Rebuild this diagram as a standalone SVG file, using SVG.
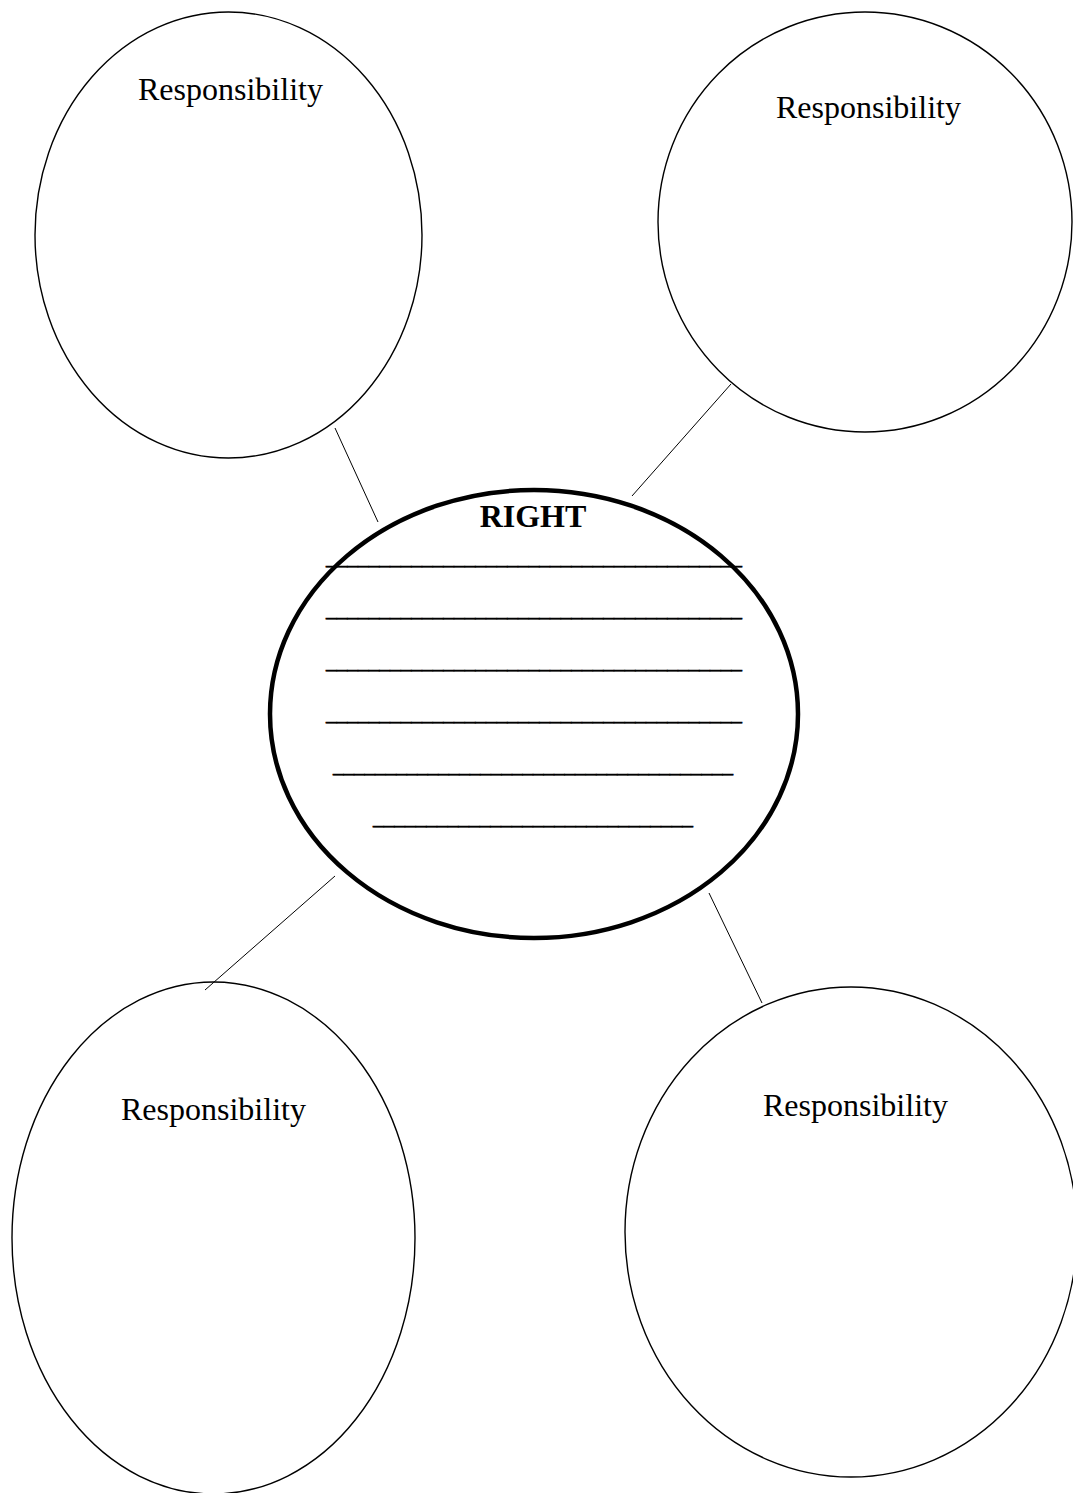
<svg xmlns="http://www.w3.org/2000/svg" width="1073" height="1493" viewBox="0 0 1073 1493">
<style>
.node{fill:none;stroke:#000;stroke-width:1.4}
.main{fill:none;stroke:#000;stroke-width:4.5}
.lbl{font-family:"Liberation Serif","Times New Roman",serif;font-size:32px;fill:#000}
.title{font-family:"Liberation Serif","Times New Roman",serif;font-size:32px;font-weight:bold;fill:#000;text-anchor:middle}
.ul{font-family:"Liberation Serif","Times New Roman",serif;font-size:21.33px;fill:#000;stroke:#000;stroke-width:0.6}
.conn{stroke:#000;stroke-width:1;fill:none}
</style>
<rect width="1073" height="1493" fill="#fff"/>
<g id="connectors">
<line class="conn" x1="335" y1="428" x2="378" y2="522"/>
<line class="conn" x1="731" y1="384" x2="632" y2="496"/>
<line class="conn" x1="335" y1="876" x2="205" y2="990"/>
<line class="conn" x1="709" y1="893" x2="762" y2="1003"/>
</g>
<g id="resp-top-left">
<ellipse class="node" cx="228.5" cy="235" rx="193.5" ry="223"/>
<text class="lbl" x="138" y="100">Responsibility</text>
</g>
<g id="resp-top-right">
<ellipse class="node" cx="865" cy="222" rx="207" ry="210"/>
<text class="lbl" x="776" y="118">Responsibility</text>
</g>
<g id="resp-bottom-left">
<ellipse class="node" cx="213.5" cy="1238" rx="201.5" ry="256"/>
<text class="lbl" x="121" y="1120">Responsibility</text>
</g>
<g id="resp-bottom-right">
<ellipse class="node" cx="851" cy="1232" rx="226" ry="245"/>
<text class="lbl" x="763" y="1116">Responsibility</text>
</g>
<g id="right">
<ellipse class="main" cx="534" cy="714" rx="264" ry="224"/>
<text class="title" x="533" y="527">RIGHT</text>
<text class="ul" x="326" y="564" textLength="416" lengthAdjust="spacingAndGlyphs">_______________________________________</text>
<text class="ul" x="326" y="616" textLength="416" lengthAdjust="spacingAndGlyphs">_______________________________________</text>
<text class="ul" x="326" y="668" textLength="416" lengthAdjust="spacingAndGlyphs">_______________________________________</text>
<text class="ul" x="326" y="720" textLength="416" lengthAdjust="spacingAndGlyphs">_______________________________________</text>
<text class="ul" x="333" y="772" textLength="400" lengthAdjust="spacingAndGlyphs">______________________________________</text>
<text class="ul" x="373" y="824" textLength="320" lengthAdjust="spacingAndGlyphs">______________________________</text>
</g>
</svg>
